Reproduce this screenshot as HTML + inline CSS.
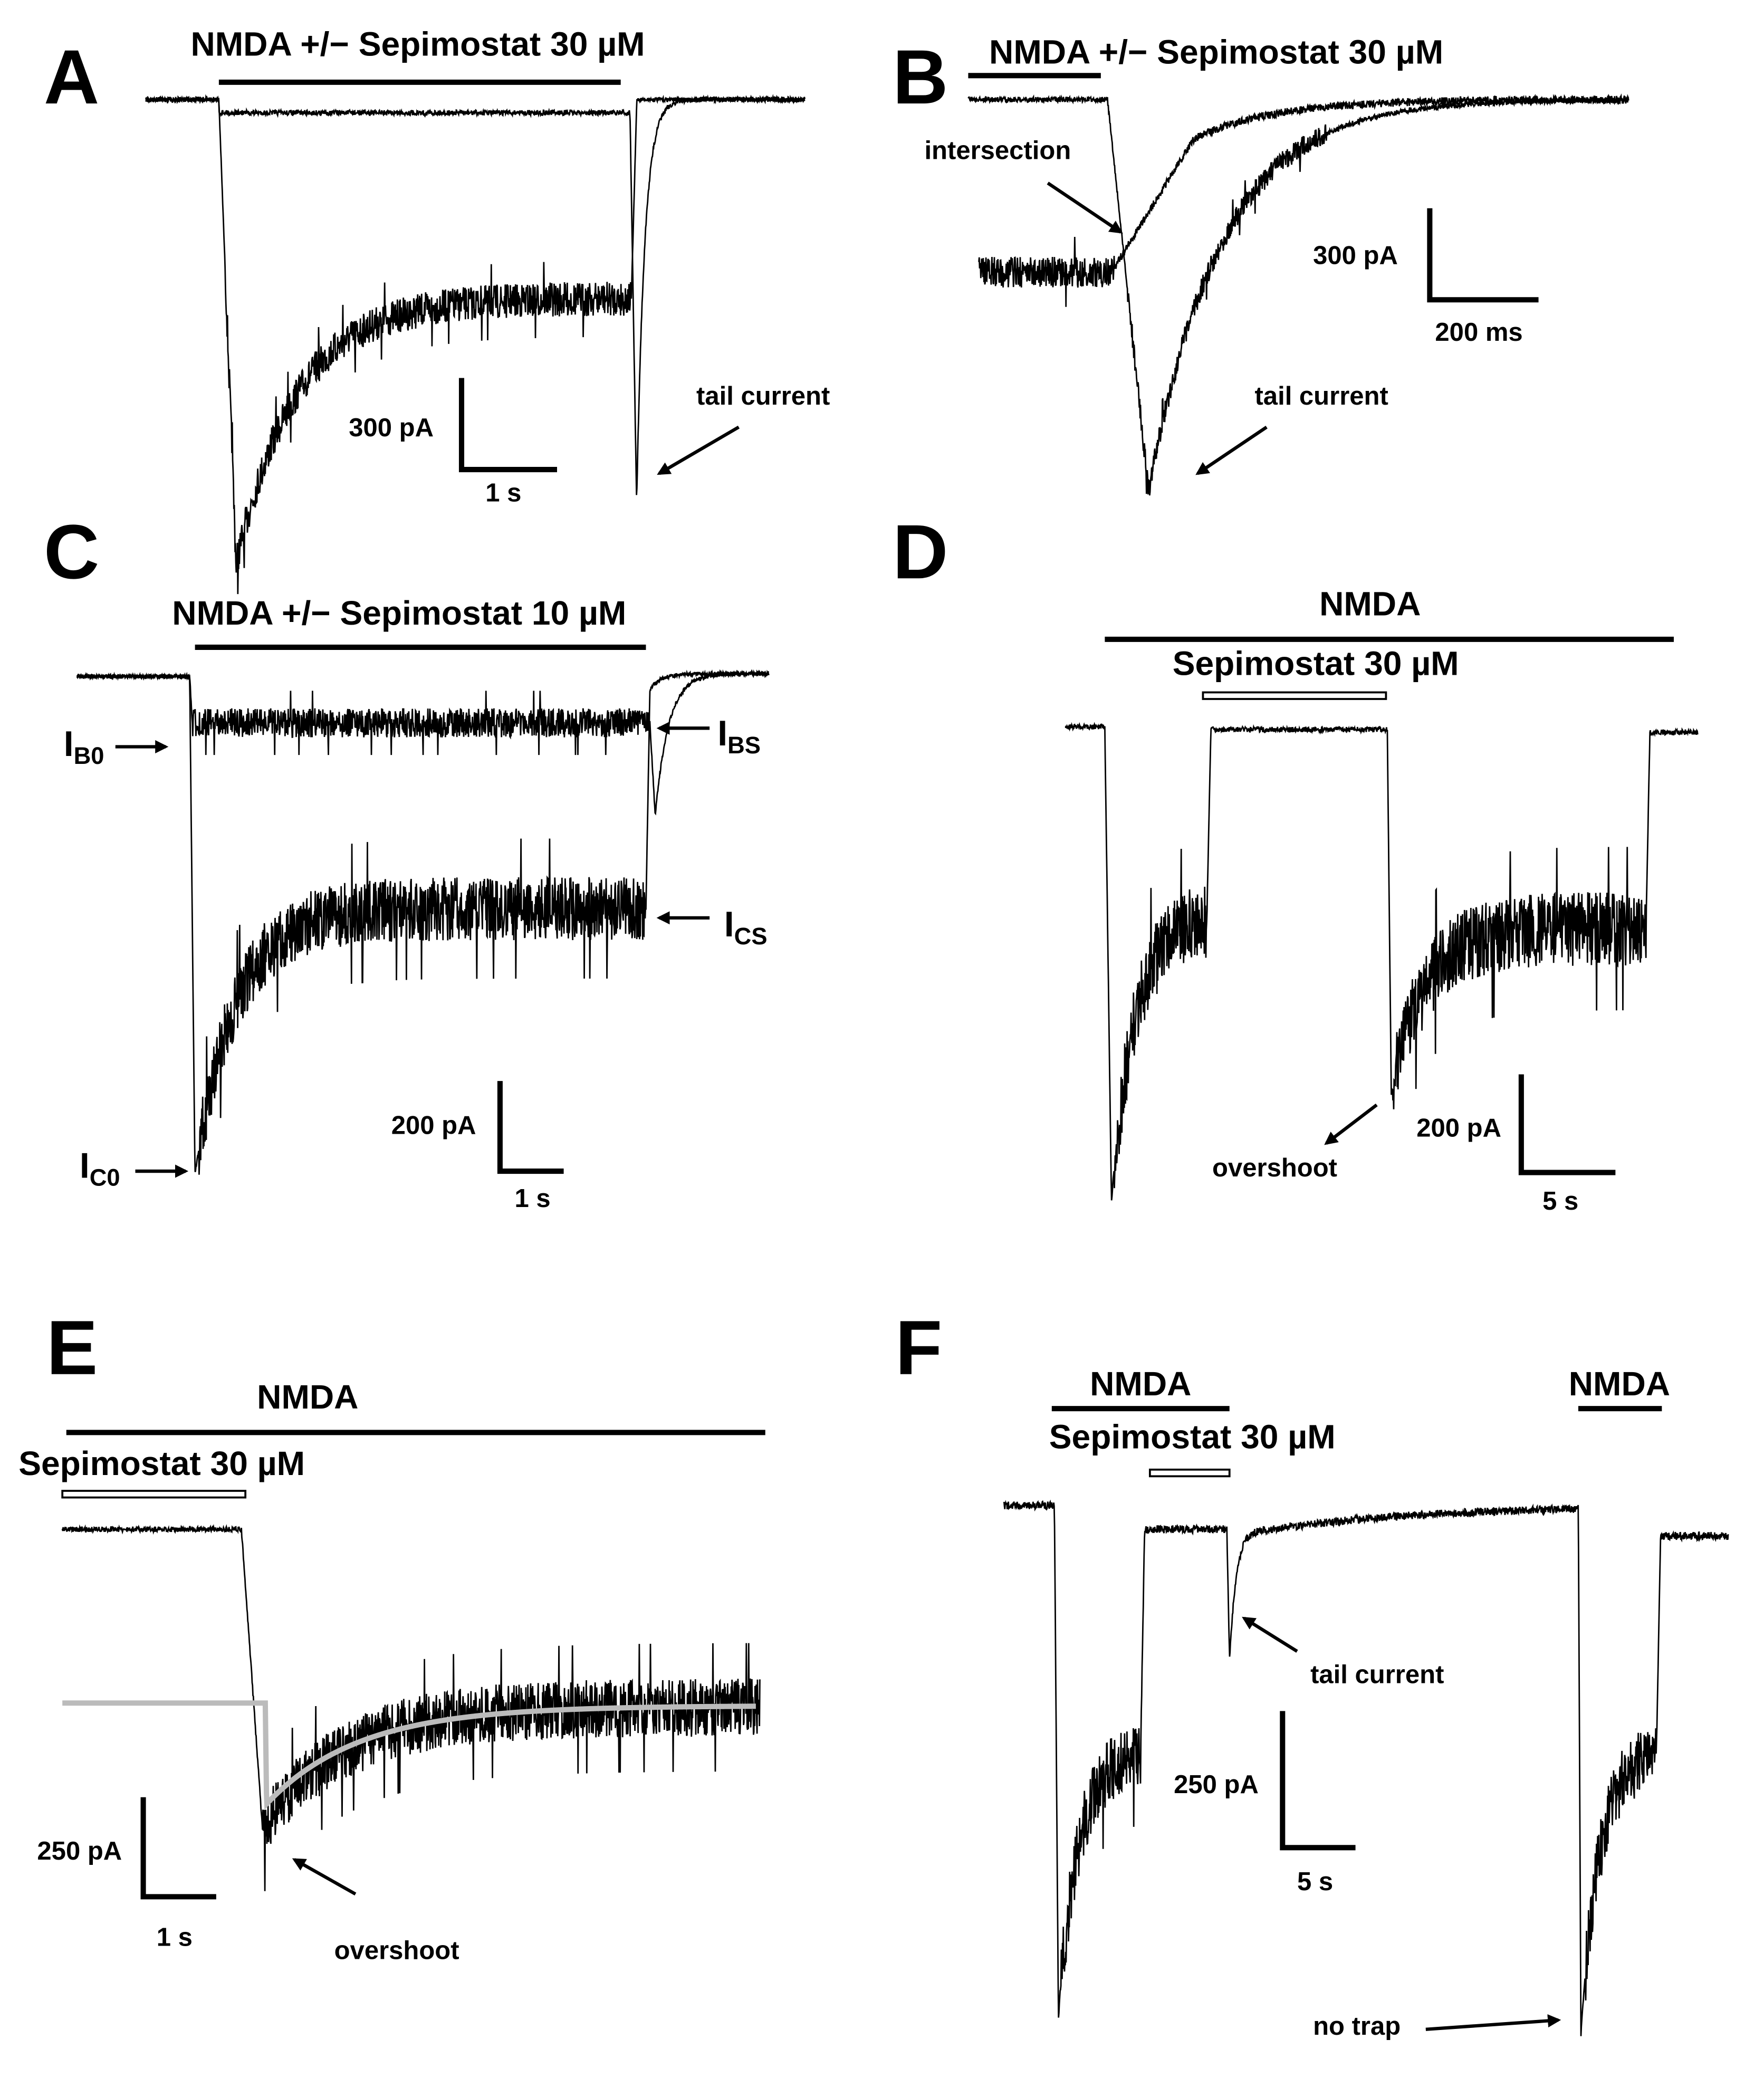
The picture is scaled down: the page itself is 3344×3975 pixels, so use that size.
<!DOCTYPE html>
<html><head><meta charset="utf-8"><style>
html,body{margin:0;padding:0;background:#fff}
svg{display:block}
text{font-family:"Liberation Sans",Arial,sans-serif;font-weight:bold;fill:#000}
</style></head><body>
<svg id="s" width="3344" height="3975" viewBox="0 0 1330 1581" xmlns="http://www.w3.org/2000/svg">
<defs><marker id="ar" markerWidth="10" markerHeight="10" refX="8" refY="5" orient="auto" markerUnits="userSpaceOnUse"><path d="M0,0 L10,5 L0,10 z" fill="#000"/></marker></defs>
<g id="tr" fill="none" stroke="#000" stroke-width="1.1"></g>
<g stroke="#000" stroke-width="4" fill="none">
<line x1="165" y1="62" x2="468" y2="62"/>
<line x1="730" y1="57" x2="830" y2="57"/>
<line x1="147" y1="488" x2="487" y2="488"/>
<line x1="833" y1="482" x2="1262" y2="482"/>
<line x1="50" y1="1080" x2="577" y2="1080"/>
<line x1="793" y1="1062" x2="927" y2="1062"/>
<line x1="1190" y1="1062" x2="1253" y2="1062"/>
<polyline points="348,285 348,354 420,354"/>
<polyline points="1078,157 1078,226 1160,226"/>
<polyline points="377,815 377,883 425,883"/>
<polyline points="1147,810 1147,884 1218,884"/>
<polyline points="108,1355 108,1430 163,1430"/>
<polyline points="967,1290 967,1393 1022,1393"/>
</g>
<g stroke="#000" stroke-width="1.5" fill="#fff">
<rect x="907" y="522" width="138" height="5"/>
<rect x="47" y="1124" width="138" height="5"/>
<rect x="867" y="1108" width="60" height="5"/>
</g>
<g stroke="#000" stroke-width="2.5" marker-end="url(#ar)">
<line x1="557" y1="322" x2="497" y2="357"/>
<line x1="790" y1="138" x2="845" y2="175"/>
<line x1="955" y1="322" x2="903" y2="357"/>
<line x1="87" y1="563" x2="125" y2="563"/>
<line x1="535" y1="549" x2="497" y2="549"/>
<line x1="535" y1="692" x2="497" y2="692"/>
<line x1="102" y1="883" x2="140" y2="883"/>
<line x1="1038" y1="833" x2="1000" y2="862"/>
<line x1="268" y1="1428" x2="222" y2="1402"/>
<line x1="978" y1="1245" x2="938" y2="1220"/>
<line x1="1075" y1="1530" x2="1175" y2="1523"/>
</g>
<g font-size="58"><text x="33" y="78">A</text><text x="673" y="78">B</text><text x="33" y="436">C</text><text x="673" y="436">D</text><text x="35" y="1036">E</text><text x="675" y="1036">F</text></g>
<g font-size="25.5">
<text x="315" y="42" text-anchor="middle">NMDA +/− Sepimostat 30 µM</text>
<text x="917" y="48" text-anchor="middle">NMDA +/− Sepimostat 30 µM</text>
<text x="301" y="471" text-anchor="middle">NMDA +/− Sepimostat 10 µM</text>
<text x="1033" y="464" text-anchor="middle">NMDA</text>
<text x="992" y="509" text-anchor="middle">Sepimostat 30 µM</text>
<text x="232" y="1062" text-anchor="middle">NMDA</text>
<text x="14" y="1112">Sepimostat 30 µM</text>
<text x="860" y="1052" text-anchor="middle">NMDA</text>
<text x="791" y="1092">Sepimostat 30 µM</text>
<text x="1221" y="1052" text-anchor="middle">NMDA</text>
<text x="48" y="570" font-size="27">I<tspan font-size="18" dy="6">B0</tspan></text>
<text x="541" y="562" font-size="27">I<tspan font-size="18" dy="6">BS</tspan></text>
<text x="546" y="706" font-size="27">I<tspan font-size="18" dy="6">CS</tspan></text>
<text x="60" y="888" font-size="27">I<tspan font-size="18" dy="6">C0</tspan></text>
</g>
<g font-size="19.5">
<text x="263" y="329">300 pA</text><text x="366" y="378">1 s</text>
<text x="525" y="305">tail current</text>
<text x="697" y="120">intersection</text>
<text x="990" y="199">300 pA</text><text x="1082" y="257">200 ms</text>
<text x="946" y="305">tail current</text>
<text x="295" y="855">200 pA</text><text x="388" y="910">1 s</text>
<text x="1068" y="857">200 pA</text><text x="1163" y="912">5 s</text>
<text x="914" y="887">overshoot</text>
<text x="28" y="1402">250 pA</text><text x="118" y="1467">1 s</text>
<text x="252" y="1477">overshoot</text>
<text x="885" y="1352">250 pA</text><text x="978" y="1425">5 s</text>
<text x="988" y="1269">tail current</text>
<text x="990" y="1534">no trap</text>
</g>
</svg>
<script>
var seed=7;function R(){seed=(seed*16807)%2147483647;return seed/2147483647-0.5;}
var g=document.getElementById('tr');
function tr(x0,x1,f,n,col,w){var d='',dx=0.3;for(var x=x0;x<=x1;x+=dx){var a=n(x),r=R()*2*a;if(a>3&&Math.random()<0.015)r=(Math.random()<0.6?1:-1)*a*2.2;var y=f(x)+r;d+=(d?'L':'M')+x.toFixed(2)+','+y.toFixed(2);}
var p=document.createElementNS('http://www.w3.org/2000/svg','path');p.setAttribute('d',d);if(col)p.setAttribute('stroke',col);if(w)p.setAttribute('stroke-width',w);g.appendChild(p);}
function E(t,tau){return Math.exp(-Math.max(0,t)/tau);}
function lin(x,a,b,ya,yb){return ya+(yb-ya)*(x-a)/(b-a);}
// A
tr(110,607,function(x){if(x<165)return 75;if(x<178)return lin(x,165,178,75,425);if(x<476)return 225+200*E(x-178,45);if(x<480)return lin(x,476,480,225,80);return 75;},function(x){return x>170&&x<476?13:1.5;});
tr(110,607,function(x){if(x<165)return 75;if(x<475)return 85;if(x<480)return lin(x,475,480,85,380);return 75+305*E(x-480,6);},function(x){return 2;});
// B
tr(730,1228,function(x){if(x<835)return 75;if(x<866)return lin(x,835,866,75,370);return 75+295*E(x-866,55);},function(x){return x>850&&x<1000?8:2;});
tr(738,1228,function(x){if(x<838)return 205;if(x<900)return lin(x,838,900,205,105);return 75+30*E(x-900,60);},function(x){return x<840?12:3;});
// C
tr(58,580,function(x){if(x<143)return 510;if(x<145)return lin(x,143,145,510,545);if(x<490)return 545;if(x<494)return lin(x,490,494,545,615);return 508+107*E(x-494,10);},function(x){return x>145&&x<490?11:1.5;});
tr(58,580,function(x){if(x<143)return 510;if(x<147)return lin(x,143,147,510,885);if(x<487)return 685+200*E(x-147,30);if(x<490)return lin(x,487,490,685,520);return 508+12*E(x-490,8);},function(x){return x>150&&x<487?24:1.5;});
// D
tr(803,1280,function(x){if(x<833)return 548;if(x<838)return lin(x,833,838,548,905);if(x<910)return 690+215*E(x-838,18);if(x<913)return lin(x,910,913,690,548);if(x<1046)return 550;if(x<1049)return lin(x,1046,1049,550,825);if(x<1241)return 700+125*E(x-1049,25);if(x<1244)return lin(x,1241,1244,700,552);return 552;},function(x){return (x>840&&x<910)||(x>1050&&x<1241)?28:2;});
// E
tr(47,573,function(x){if(x<182)return 1153;if(x<198)return lin(x,182,198,1153,1380);return 1287+93*E(x-198,60);},function(x){return x>198?22:2;});
tr(47,570,function(x){if(x<200)return 1284;if(x<201)return lin(x,200,201,1284,1360);return 1286+74*E(x-201,70);},function(){return 0;},'#bbb',4);
// F
tr(757,1303,function(x){if(x<795)return 1135;if(x<798)return lin(x,795,798,1135,1520);if(x<860)return 1320+200*E(x-798,15);if(x<863)return lin(x,860,863,1320,1153);if(x<925)return 1153;if(x<927)return lin(x,925,927,1153,1248);if(x<1190)return 1135+18*E(x-960,120)+100*E(x-927,5)*(x<960?1:0);if(x<1192)return lin(x,1190,1192,1135,1535);if(x<1249)return 1320+215*E(x-1192,14);if(x<1252)return lin(x,1249,1252,1320,1160);return 1158;},function(x){return (x>800&&x<860)||(x>1195&&x<1249)?24:3;});
</script>
</body></html>
